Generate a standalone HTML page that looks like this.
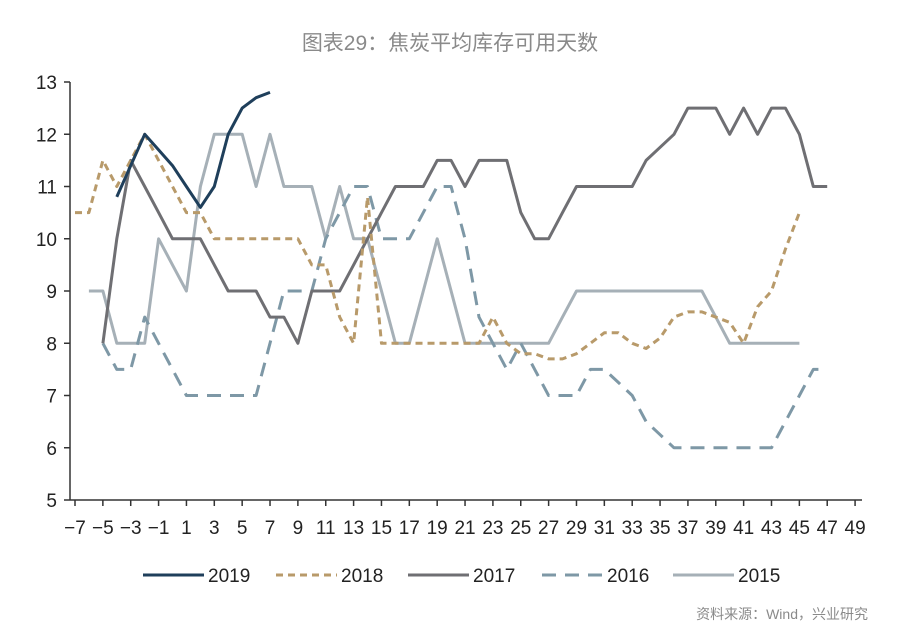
<!DOCTYPE html>
<html><head><meta charset="utf-8"><style>
body{margin:0;background:#fff;font-family:"Liberation Sans","Noto Sans CJK SC",sans-serif}
#wrap{position:relative;width:900px;height:642px;overflow:hidden}
</style></head><body>
<div id="wrap">
<svg id="svg" width="900" height="642">
<text x="450" y="50" text-anchor="middle" font-size="21" fill="#8a8a8a" font-family="Liberation Sans, Noto Sans CJK SC, sans-serif">图表29：焦炭平均库存可用天数</text>
<text x="868" y="619" text-anchor="end" font-size="14" fill="#8a8a8a" font-family="Liberation Sans, Noto Sans CJK SC, sans-serif">资料来源：Wind，兴业研究</text>
</svg>
</div>
<script>
const yTicks=[5,6,7,8,9,10,11,12,13];
const xTicks=[-7,-5,-3,-1,1,3,5,7,9,11,13,15,17,19,21,23,25,27,29,31,33,35,37,39,41,43,45,47,49];
const s2019Start=-4;
const s2019=[10.8,11.4,12,11.7,11.4,11,10.6,11,12,12.5,12.7,12.8];
const s2018Start=-7;
const s2018=[10.5,10.5,11.5,11,11.5,12,11.5,11,10.5,10.5,10,10,10,10,10,10,10,9.5,9.5,8.5,8,10.8,8,8,8,8,8,8,8,8,8.5,8,7.8,7.8,7.7,7.7,7.8,8,8.2,8.2,8,7.9,8.1,8.5,8.6,8.6,8.5,8.4,8,8.7,9,9.8,10.5];
const s2017Start=-5;
const s2017=[8,10,11.5,11,10.5,10,10,10,9.5,9,9,9,8.5,8.5,8,9,9,9,9.5,10,10.5,11,11,11,11.5,11.5,11,11.5,11.5,11.5,10.5,10,10,10.5,11,11,11,11,11,11.5,11.75,12,12.5,12.5,12.5,12,12.5,12,12.5,12.5,12,11,11];
const s2016Start=-5;
const s2016=[8,7.5,7.5,8.5,8,7.5,7,7,7,7,7,7,8,9,9,9,10,10.5,11,11,10,10,10,10.5,11,11,10,8.5,8,7.5,8,7.5,7,7,7,7.5,7.5,7.25,7,6.5,6.25,6,6,6,6,6,6,6,6,6.5,7,7.5,7.5];
const s2015Start=-6;
const s2015=[9,9,8,8,8,10,9.5,9,11,12,12,12,11,12,11,11,11,10,11,10,10,9,8,8,9,10,9,8,8,8,8,8,8,8,8.5,9,9,9,9,9,9,9,9,9,9,8.5,8,8,8,8,8,8];
const seriesNames=["2019","2018","2017","2016","2015"];

const svg=document.getElementById('svg');const NS='http://www.w3.org/2000/svg';
const X=v=>75+(v+7)*13.93;
const Y=v=>500-(v-5)*52.25;
function mk(t,a){const e=document.createElementNS(NS,t);for(const k in a)e.setAttribute(k,a[k]);svg.appendChild(e);return e;}
let ax=mk('line',{x1:70,y1:82,x2:70,y2:500,stroke:'#333','stroke-width':1.5});

let bx=mk('line',{x1:70,y1:500,x2:862,y2:500,stroke:'#333','stroke-width':1.5});

yTicks.forEach(v=>{mk('line',{x1:64,y1:Y(v),x2:70,y2:Y(v),stroke:'#333','stroke-width':1.5});
const t=mk('text',{x:57,y:Y(v)+7,'text-anchor':'end','font-size':19,fill:'#222'});t.textContent=v;
});
xTicks.forEach(v=>{mk('line',{x1:X(v),y1:500,x2:X(v),y2:506,stroke:'#333','stroke-width':1.5});
const t=mk('text',{x:X(v),y:534,'text-anchor':'middle','font-size':19,fill:'#222'});t.textContent=(v<0?'\u2212'+(-v):v);
});
const styles=[['#1f3f5b','none',3],['#b89a6a','7 5',3],['#6f6f73','none',3],['#7e98a6','14 9',3],['#a6b0b7','none',3]];
function draw(data,start,i){const pts=data.map((v,k)=>X(start+k).toFixed(1)+','+Y(v).toFixed(1)).join(' ');
const p=mk('polyline',{points:pts,fill:'none',stroke:styles[i][0],'stroke-width':styles[i][2],'stroke-dasharray':styles[i][1],'stroke-linejoin':'round'});
}
draw(s2015,s2015Start,4);draw(s2016,s2016Start,3);draw(s2017,s2017Start,2);draw(s2018,s2018Start,1);draw(s2019,s2019Start,0);
const lx=[143,276,408,542,673];
seriesNames.forEach((n,i)=>{const l=mk('line',{x1:lx[i],y1:575,x2:lx[i]+61,y2:575,stroke:styles[i][0],'stroke-width':3,'stroke-dasharray':styles[i][1]});

const t=mk('text',{x:lx[i]+65,y:582,'font-size':19,fill:'#222'});t.textContent=n;
});
</script>
</body></html>
